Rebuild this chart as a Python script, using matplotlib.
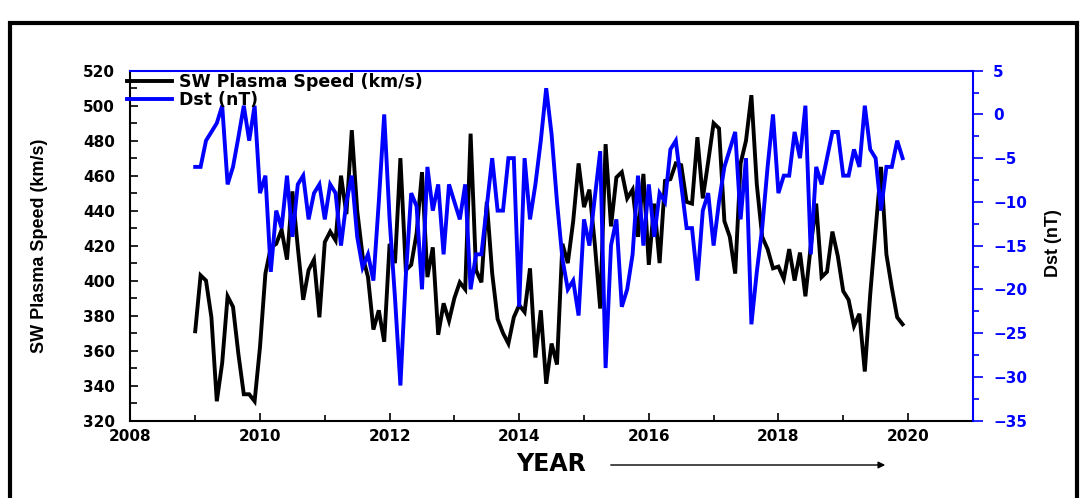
import numpy as np
import matplotlib
matplotlib.use("Agg")
import matplotlib.pyplot as plt
from matplotlib.patches import Rectangle
from matplotlib.ticker import MultipleLocator
from matplotlib.font_manager import FontProperties

# ---------------- data (monthly, Jan 2009 - Dec 2019) ----------------
start_year = 2009
speed = [371, 403, 400, 379, 331, 353, 391, 385, 358, 335, 335, 331,
         362, 404, 419, 421, 429, 412, 451, 419, 389, 406, 412, 379,
         422, 428, 423, 460, 438, 486, 440, 414, 402, 372, 383, 365,
         421, 410, 470, 406, 409, 427, 462, 402, 419, 369, 387, 377,
         390, 399, 395, 484, 406, 399, 445, 404, 378, 370, 364, 379,
         386, 382, 407, 356, 383, 341, 364, 352, 421, 410, 434, 467,
         442, 452, 421, 384, 478, 431, 459, 462, 447, 452, 425, 461,
         409, 444, 410, 457, 458, 467, 466, 445, 444, 482, 447, 468,
         490, 487, 434, 425, 404, 467, 480, 506, 455, 425, 418, 407,
         408, 401, 418, 400, 416, 391, 420, 444, 402, 405, 428, 414,
         394, 389, 374, 381, 348, 392, 429, 465, 415, 396, 379, 375]
dst = [-6, -6, -3, -2, -1, 1, -8, -6, -2.6, 1, -3, 1,
       -9, -7, -18, -11, -13, -7, -14, -8, -7, -12, -9, -8,
       -12, -8, -9, -15, -10, -7, -14, -17.5, -16, -19, -10, 0,
       -12, -21, -31, -18.5, -9, -10.5, -20, -6, -11, -8, -16, -8,
       -10, -12, -8, -20, -16, -16, -10.5, -5, -11, -11, -5, -5,
       -22, -5, -12, -8, -3, 3, -2.3, -10, -16.5, -20, -19, -23,
       -12, -15, -9.5, -4.2, -29, -15, -12, -22, -20, -16, -7, -15,
       -8, -14, -9, -10, -4, -3, -8, -13, -13, -19, -11, -9,
       -15, -10, -6, -4, -2, -12, -5, -24, -18, -13, -6, 0,
       -9, -7, -7, -2, -5, 1, -16, -6, -8, -5, -2, -2,
       -7, -7, -4, -6, 1, -4, -5, -11, -6, -6, -3, -5]
years = start_year + np.arange(len(speed)) / 12.0

x_ticks = [2008, 2010, 2012, 2014, 2016, 2018, 2020]
speed_ticks = list(range(320, 521, 20))
dst_ticks = list(range(-35, 6, 5))

label_speed = "SW Plasma Speed (km/s)"
label_dst = "Dst (nT)"
blue = "#0000FF"

# ---------------- figure ----------------
W, H = 1081, 498
fig = plt.figure(figsize=(W / 100, H / 100), dpi=100)
fig.patch.set_facecolor("white")

L, R, T, B = 130.4, 972.8, 70.7, 420.5
ax = fig.add_axes([L / W, 1 - B / H, (R - L) / W, (B - T) / H])
ax2 = ax.twinx()

tick_fp = FontProperties(family="DejaVu Sans", weight="bold", size=11)

l1, = ax.plot(years, speed, color="black", lw=2.8, label=label_speed,
              solid_joinstyle="miter")
l2, = ax2.plot(years, dst, color=blue, lw=2.8, label=label_dst,
               solid_joinstyle="miter")

ax.set_xlim(2008, 2021)
ax.set_ylim(320, 520)
ax2.set_ylim(-35, 5)

# spines
for s in ["top", "right"]:
    ax.spines[s].set_visible(False)
for s in ["left", "bottom"]:
    ax2.spines[s].set_visible(False)
ax.spines["left"].set_linewidth(1.5)
ax.spines["bottom"].set_linewidth(1.5)
ax2.spines["top"].set_color(blue)
ax2.spines["right"].set_color(blue)
ax2.spines["top"].set_linewidth(1.5)
ax2.spines["right"].set_linewidth(1.5)

# x ticks
ax.set_xticks(x_ticks)
ax.xaxis.set_minor_locator(MultipleLocator(1))
ax.tick_params(axis="x", which="major", direction="in", length=6, width=1.2,
               pad=6, top=False, colors="black")
ax.tick_params(axis="x", which="minor", direction="in", length=4, width=1.2,
               top=False)
for lab in ax.get_xticklabels():
    lab.set_fontproperties(tick_fp)

# top ticks (blue) through ax2
ax2.tick_params(axis="x", which="both", bottom=False, top=True, labelbottom=False,
                labeltop=False, direction="in", color=blue, width=1.2)
ax2.tick_params(axis="x", which="major", length=6)
ax2.tick_params(axis="x", which="minor", length=5)

# left y ticks
ax.set_yticks(speed_ticks)
ax.yaxis.set_minor_locator(MultipleLocator(10))
ax.tick_params(axis="y", which="major", direction="in", length=6, width=1.2, pad=11)
ax.tick_params(axis="y", which="minor", direction="in", length=5, width=1.2)
for lab in ax.get_yticklabels():
    lab.set_fontproperties(tick_fp)

# right y ticks
ax2.set_yticks(dst_ticks)
ax2.yaxis.set_minor_locator(MultipleLocator(2.5))
ax2.tick_params(axis="y", which="major", direction="out", length=7.5, width=1.2,
                pad=7, color=blue, labelcolor=blue)
ax2.tick_params(axis="y", which="minor", direction="out", length=4.5, width=1.2,
                color=blue)
for lab in ax2.get_yticklabels():
    lab.set_fontproperties(tick_fp)
    lab.set_color(blue)

# axis labels
ylab_font = dict(family=["Liberation Sans", "DejaVu Sans"], size=13, weight="bold")
ax.set_ylabel(label_speed, va="center", **ylab_font)
ax.yaxis.set_label_coords((40 - L) / (R - L), (B - 246) / (B - T))
ax2.set_ylabel(label_dst, rotation=90, va="center", **ylab_font)
ax2.yaxis.set_label_coords((1053 - L) / (R - L), (B - 243) / (B - T))

fig.text(551 / W, 1 - 464 / H, "YEAR", ha="center", va="center",
         family="DejaVu Sans", weight="bold", size=17)
fig.add_artist(matplotlib.patches.FancyArrowPatch(
    (608 / W, 1 - 465 / H), (888 / W, 1 - 465 / H),
    transform=fig.transFigure, arrowstyle="-|>", mutation_scale=10,
    lw=1.0, color="black"))

# legend
leg = ax2.legend(handles=[l1, l2], loc="upper left",
                 bbox_to_anchor=(127 / W, 1 - 73 / H),
                 bbox_transform=fig.transFigure, frameon=False,
                 borderpad=0, borderaxespad=0, labelspacing=0.0,
                 handlelength=2.6, handletextpad=0.4,
                 prop=dict(family="DejaVu Sans", weight="bold", size=12.5))

# outer frame
fig.add_artist(Rectangle((10 / W, -0.1), (1077 - 10) / W, 1.1 - 23 / H,
                         transform=fig.transFigure, fill=False,
                         edgecolor="black", lw=3, clip_on=False))

fig.savefig("out.png", dpi=100)
